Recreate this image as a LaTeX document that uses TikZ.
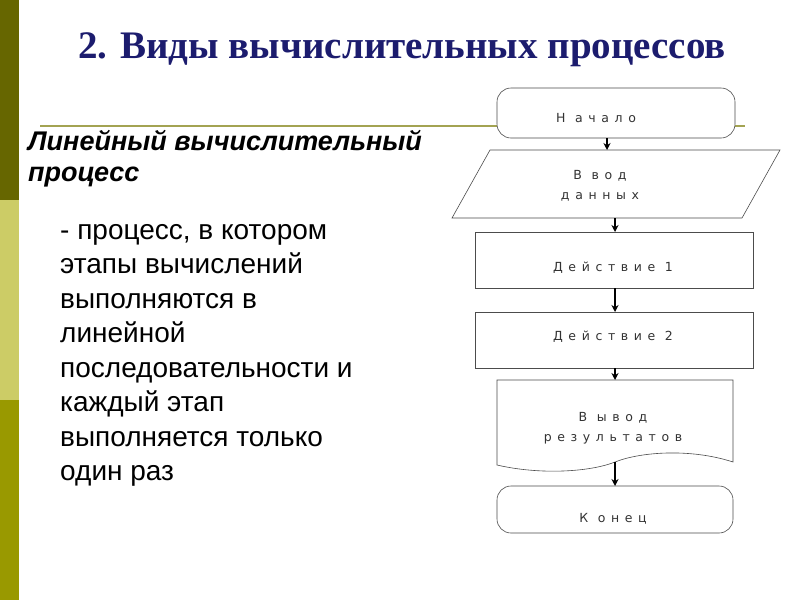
\documentclass[tikz,border=0pt]{standalone}
\usepackage{fontspec}
\setmainfont{Liberation Serif}
\newfontfamily\flow[LetterSpace=45]{DejaVu Sans}
\newfontfamily\lsans{Liberation Sans}
\usetikzlibrary{shapes.geometric,arrows.meta}
\definecolor{navy}{HTML}{1C1C6E}
\definecolor{oliveA}{HTML}{666600}
\definecolor{oliveB}{HTML}{CCCC66}
\definecolor{oliveC}{HTML}{999900}
\begin{document}
\begin{tikzpicture}[x=1pt,y=-1pt,
  fbox/.style={draw=black!70,line width=0.6pt},
  ftext/.style={font=\flow\fontsize{12.5}{20}\selectfont,align=center,text=black!80},
  arr/.style={-{Stealth[length=7pt,width=7pt]},line width=1.2pt}]
\useasboundingbox (0,0) rectangle (800,600);
\fill[white] (0,0) rectangle (800,600);
\fill[oliveA] (0,0) rectangle (19,200);
\fill[oliveB] (0,200) rectangle (19,400);
\fill[oliveC] (0,400) rectangle (19,600);
\draw[oliveB!80!black,line width=1.2pt] (40,126) -- (745,126);
\node[anchor=west,text=navy,font=\fontsize{39}{44}\selectfont\bfseries,inner sep=0pt] (title) at (78,50) {2. Виды вычислительных процессов};
\node[anchor=north west,align=left,font=\lsans\fontsize{27}{31}\selectfont\bfseries\itshape,inner sep=0pt] (sub) at (28,130) {Линейный вычислительный\\процесс};
\node[anchor=north west,align=left,font=\lsans\fontsize{28}{34.5}\selectfont,inner sep=0pt] (body) at (60,224) {- процесс, в котором\\этапы вычислений\\выполняются в\\линейной\\последовательности и\\каждый этап\\выполняется только\\один раз};
% flowchart
\draw[fbox,fill=white,rounded corners=14pt] (497,88) rectangle (735,138);
\node[ftext] (n1) at (596,118) {Н ачало};
\draw[fbox] (490,150) -- (780,150) -- (742,218) -- (452,218) -- cycle;
\node[ftext] (n2) at (600,186) {В вод\\данных};
\draw[fbox] (475,232) rectangle (753,288);
\node[ftext] (n3) at (613,268) {Действие 1};
\draw[fbox] (475,312) rectangle (753,368);
\node[ftext] (n4) at (613,337) {Действие 2};
\draw[fbox] (497,380) -- (733,380) -- (733,462) .. controls (690,448) and (640,452) .. (615,462) .. controls (590,472) and (540,475) .. (497,465) -- cycle;
\node[ftext] (n5) at (613,428) {В ывод\\результатов};
\draw[fbox,rounded corners=14pt] (497,486) rectangle (733,533);
\node[ftext] (n6) at (613,519) {К онец};
\coordinate (a1) at (607,138); \coordinate (b1) at (607,150);
\coordinate (a2) at (615,218); \coordinate (b2) at (615,232);
\coordinate (a3) at (615,288); \coordinate (b3) at (615,312);
\coordinate (a4) at (615,368); \coordinate (b4) at (615,380);
\coordinate (a5) at (615,462); \coordinate (b5) at (615,486);
\foreach \i in {1,...,5} \draw[arr] (a\i) -- (b\i);
\end{tikzpicture}
\end{document}
